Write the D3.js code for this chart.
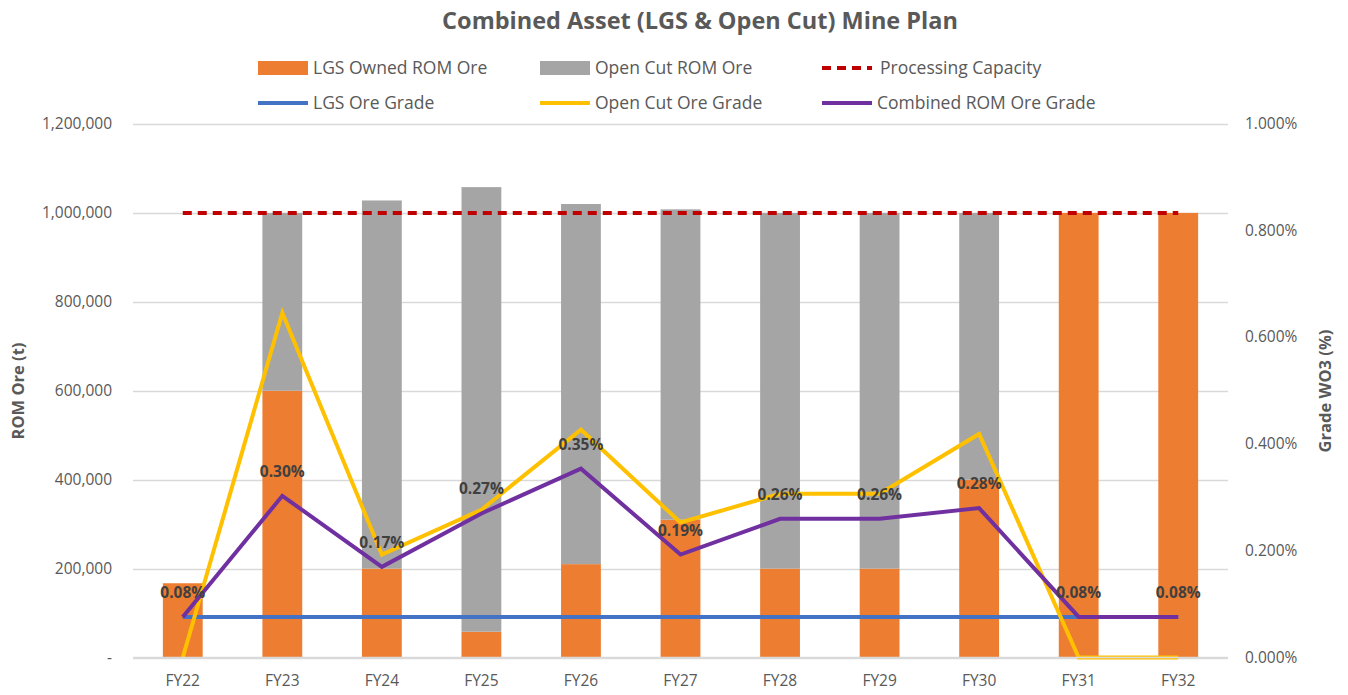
<!DOCTYPE html>
<html>
<head>
<meta charset="utf-8">
<script src="https://cdn.jsdelivr.net/npm/d3@7"></script>
<style>
  body { margin: 0; background: #fff; }
  svg { font-family: 'Open Sans', sans-serif; }
</style>
</head>
<body>
<svg width="1348" height="695"></svg>
<script>
const categories = ['FY22', 'FY23', 'FY24', 'FY25', 'FY26', 'FY27', 'FY28', 'FY29', 'FY30', 'FY31', 'FY32']
const lgsOre = [167000, 600000, 200000, 58000, 210000, 310000, 200000, 200000, 400000, 1000000, 1000000]
const openCutOre = [0, 400000, 828000, 1000000, 810000, 698000, 800000, 800000, 600000, 0, 0]
const capacity = [1000000, 1000000, 1000000, 1000000, 1000000, 1000000, 1000000, 1000000, 1000000, 1000000, 1000000]
const lgsGrade = [0.076, 0.076, 0.076, 0.076, 0.076, 0.076, 0.076, 0.076, 0.076, 0.076, 0.076]
const openCutGrade = [0, 0.646, 0.193, 0.277, 0.427, 0.253, 0.307, 0.307, 0.419, 0, 0]
const combinedGrade = [0.076, 0.303, 0.170, 0.270, 0.354, 0.193, 0.260, 0.260, 0.280, 0.076, 0.076]
const leftTicks = [0, 200000, 400000, 600000, 800000, 1000000, 1200000]
const rightTicks = [0, 0.2, 0.4, 0.6, 0.8, 1.0]

const margin = { top: 124, right: 120, bottom: 37, left: 133 }
const width = 1348
const height = 695

const svg = d3.select('svg')
const textColor = '#595959'

const x = d3.scaleBand()
  .domain(categories)
  .range([margin.left, width - margin.right])
  .paddingInner(0.6)
  .paddingOuter(0.3)

const xc = d => x(d) + x.bandwidth() / 2

const yLeft = d3.scaleLinear()
  .domain([0, 1200000])
  .range([height - margin.bottom - 0.5, margin.top])

const yRight = d3.scaleLinear()
  .domain([0, 1.0])
  .range([height - margin.bottom - 0.5, margin.top])

// gridlines
svg.append('g')
  .selectAll('line')
  .data(leftTicks)
  .enter().append('line')
  .attr('x1', margin.left)
  .attr('x2', width - margin.right)
  .attr('y1', d => Math.round(yLeft(d)) + 0.5)
  .attr('y2', d => Math.round(yLeft(d)) + 0.5)
  .attr('stroke', '#d9d9d9')
  .attr('stroke-width', 1.3)

// stacked bars
const rows = categories.map((c, i) => ({ cat: c, lgs: lgsOre[i], oc: openCutOre[i] }))

svg.append('g').selectAll('rect')
  .data(rows)
  .enter().append('rect')
  .attr('x', d => x(d.cat))
  .attr('width', x.bandwidth())
  .attr('y', d => yLeft(d.lgs))
  .attr('height', d => yLeft(0) - yLeft(d.lgs))
  .attr('fill', '#ed7d31')

svg.append('g').selectAll('rect')
  .data(rows)
  .enter().append('rect')
  .attr('x', d => x(d.cat))
  .attr('width', x.bandwidth())
  .attr('y', d => yLeft(d.lgs + d.oc))
  .attr('height', d => yLeft(d.lgs) - yLeft(d.lgs + d.oc))
  .attr('fill', '#a5a5a5')

// processing capacity
const capLine = d3.line()
  .x((d, i) => xc(categories[i]))
  .y(d => yLeft(d))

svg.append('path')
  .datum(capacity)
  .attr('d', capLine)
  .attr('fill', 'none')
  .attr('stroke', '#c00000')
  .attr('stroke-width', 4)
  .attr('stroke-dasharray', '9,6')

// grade lines
const gradeLine = d3.line()
  .x((d, i) => xc(categories[i]))
  .y(d => yRight(d))

const gradeSeries = [
  { values: lgsGrade, color: '#4472c4' },
  { values: openCutGrade, color: '#ffc000' },
  { values: combinedGrade, color: '#7030a0' }
]

gradeSeries.forEach(s => {
  svg.append('path')
    .datum(s.values)
    .attr('d', gradeLine)
    .attr('fill', 'none')
    .attr('stroke', s.color)
    .attr('stroke-width', 4)
    .attr('stroke-linejoin', 'miter')
})

// combined grade labels
svg.append('g').selectAll('text')
  .data(combinedGrade)
  .enter().append('text')
  .attr('x', (d, i) => xc(categories[i]))
  .attr('y', d => yRight(d) - 19)
  .attr('text-anchor', 'middle')
  .attr('font-size', 15.5)
  .attr('font-weight', 'bold')
  .attr('fill', '#404040')
  .text(d => d.toFixed(2) + '%')

// axes
svg.append('line')
  .attr('x1', margin.left)
  .attr('x2', width - margin.right)
  .attr('y1', yLeft(0))
  .attr('y2', yLeft(0))
  .attr('stroke', '#d9d9d9')
  .attr('stroke-width', 1.3)

const fmtLeft = d => d === 0 ? '-' : d3.format(',')(d)

svg.append('g').selectAll('text')
  .data(leftTicks)
  .enter().append('text')
  .attr('x', margin.left - 21)
  .attr('y', d => yLeft(d) + 5)
  .attr('text-anchor', 'end')
  .attr('font-size', 15.5)
  .attr('fill', textColor)
  .text(fmtLeft)

svg.append('g').selectAll('text')
  .data(rightTicks)
  .enter().append('text')
  .attr('x', width - margin.right + 17)
  .attr('y', d => yRight(d) + 5)
  .attr('font-size', 15.5)
  .attr('fill', textColor)
  .text(d => d.toFixed(3) + '%')

svg.append('g').selectAll('text')
  .data(categories)
  .enter().append('text')
  .attr('x', d => xc(d))
  .attr('y', 686)
  .attr('text-anchor', 'middle')
  .attr('font-size', 15.5)
  .attr('fill', textColor)
  .text(d => d)

svg.append('text')
  .attr('transform', `translate(24, ${391}) rotate(-90)`)
  .attr('text-anchor', 'middle')
  .attr('font-size', 16.5)
  .attr('font-weight', 'bold')
  .attr('fill', textColor)
  .text('ROM Ore (t)')

svg.append('text')
  .attr('transform', `translate(1331, ${391}) rotate(-90)`)
  .attr('text-anchor', 'middle')
  .attr('font-size', 16.5)
  .attr('font-weight', 'bold')
  .attr('fill', textColor)
  .text('Grade WO3 (%)')

// title
svg.append('text')
  .attr('x', 700)
  .attr('y', 29)
  .attr('text-anchor', 'middle')
  .attr('font-size', 23.5)
  .attr('font-weight', 'bold')
  .attr('fill', textColor)
  .text('Combined Asset (LGS & Open Cut) Mine Plan')

// legend
const legendItems = [
  { name: 'LGS Owned ROM Ore', type: 'rect', color: '#ed7d31', col: 0, row: 0 },
  { name: 'Open Cut ROM Ore', type: 'rect', color: '#a5a5a5', col: 1, row: 0 },
  { name: 'Processing Capacity', type: 'dash', color: '#c00000', col: 2, row: 0 },
  { name: 'LGS Ore Grade', type: 'line', color: '#4472c4', col: 0, row: 1 },
  { name: 'Open Cut Ore Grade', type: 'line', color: '#ffc000', col: 1, row: 1 },
  { name: 'Combined ROM Ore Grade', type: 'line', color: '#7030a0', col: 2, row: 1 }
]
const legendX = [258, 540, 822]
const legendY = [68, 103]

const legend = svg.append('g').selectAll('g')
  .data(legendItems)
  .enter().append('g')
  .attr('transform', d => `translate(${legendX[d.col]}, ${legendY[d.row]})`)

legend.filter(d => d.type === 'rect').append('rect')
  .attr('x', 0)
  .attr('y', -7)
  .attr('width', 50)
  .attr('height', 14)
  .attr('fill', d => d.color)

legend.filter(d => d.type !== 'rect').append('line')
  .attr('x1', 0)
  .attr('x2', 50)
  .attr('y1', 0)
  .attr('y2', 0)
  .attr('stroke', d => d.color)
  .attr('stroke-width', 4)
  .attr('stroke-dasharray', d => d.type === 'dash' ? '9,6' : null)

legend.append('text')
  .attr('x', d => d.type === 'dash' ? 58 : 55)
  .attr('y', 6)
  .attr('font-size', 17.5)
  .attr('fill', textColor)
  .text(d => d.name)
</script>
</body>
</html>
